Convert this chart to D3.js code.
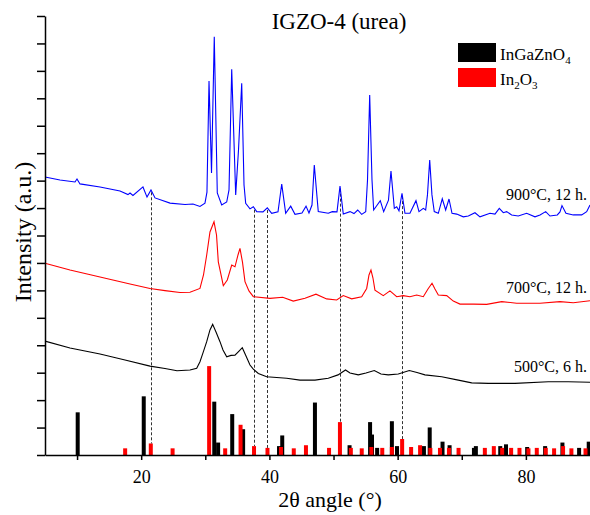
<!DOCTYPE html>
<html>
<head>
<meta charset="utf-8">
<script src="https://cdn.jsdelivr.net/npm/d3@7"></script>
<style>
body { margin: 0; background: #fff; }
</style>
</head>
<body>
<svg id="chart" width="590" height="515"></svg>
<script>
// XRD scans, [2theta, intensity in a.u.] (curves offset as in the figure)
var scan900 = [[5.00,10.13],[7.34,10.02],[9.68,9.95],[9.99,10.06],[10.46,9.88],[13.58,9.77],[16.70,9.62],[17.94,9.49],[18.26,9.55],[18.72,9.46],
  [20.28,9.77],[20.91,9.40],[21.53,9.66],[22.16,9.37],[24.50,9.18],[26.83,9.13],[28.08,9.15],[29.17,9.06],[29.95,9.18],[30.26,9.58],
  [30.58,13.63],[30.97,10.28],[31.40,15.24],[31.87,9.55],[32.56,9.11],[33.34,9.22],[33.70,9.66],[34.12,14.06],[34.74,9.48],[35.18,11.12],
  [35.68,13.55],[36.04,9.84],[36.30,9.17],[36.97,8.97],[37.49,9.05],[38.02,8.87],[39.00,8.86],[39.67,9.01],[40.36,8.81],[41.34,8.86],
  [41.92,9.87],[42.54,8.81],[43.32,9.07],[43.99,8.77],[45.08,8.82],[45.71,9.07],[46.17,8.82],[46.64,9.11],[47.00,10.57],[47.62,8.87],
  [49.18,8.81],[49.81,8.87],[50.54,8.86],[51.01,9.80],[51.52,8.78],[52.57,8.87],[53.19,8.80],[53.77,8.93],[54.39,8.77],[55.02,8.87],
  [55.30,10.02],[55.64,13.12],[56.00,10.02],[56.26,8.93],[57.29,9.27],[57.82,8.87],[58.57,9.29],[58.96,10.35],[59.48,8.99],[59.85,9.05],
  [60.21,8.90],[60.68,9.54],[61.14,8.81],[61.92,8.81],[62.86,9.27],[63.33,8.87],[64.00,8.99],[64.37,8.93],[64.65,9.48],[65.00,10.75],
  [65.35,9.48],[65.71,8.87],[66.34,8.81],[66.96,9.34],[67.49,8.93],[68.01,9.33],[68.48,8.81],[69.21,8.78],[70.24,8.68],[71.02,8.71],
  [72.06,8.83],[72.84,8.68],[74.40,8.81],[75.18,8.78],[75.85,8.99],[76.48,8.83],[77.00,8.87],[77.78,8.75],[78.81,8.71],[80.12,8.81],
  [81.42,8.68],[82.20,8.75],[83.09,8.87],[83.76,8.71],[84.90,8.75],[85.32,8.86],[85.63,9.09],[86.25,8.81],[87.39,8.75],[88.70,8.75],
  [89.48,8.87],[90.00,9.11]];

var scan700 = [[5.00,6.99],[8.90,6.74],[13.58,6.49],[18.26,6.23],[21.38,6.07],[23.71,5.99],[26.05,5.92],[27.61,5.93],[29.17,6.07],[29.72,6.56],
  [30.22,7.29],[30.73,8.13],[31.36,8.50],[31.75,8.02],[32.03,7.04],[32.81,6.17],[33.43,6.38],[34.12,6.92],[34.63,6.86],[35.10,7.29],
  [35.41,7.53],[35.80,7.03],[36.19,6.32],[36.81,5.98],[37.49,5.77],[40.09,5.71],[42.07,5.75],[43.72,5.61],[45.55,5.71],[47.26,5.86],
  [48.93,5.69],[50.49,5.65],[51.52,5.81],[52.83,5.69],[54.39,5.77],[55.17,6.07],[55.53,6.56],[55.84,6.74],[56.15,6.45],[56.46,6.01],
  [57.76,5.81],[58.80,5.98],[59.85,5.77],[60.88,5.81],[61.92,5.77],[62.97,5.83],[64.00,5.77],[64.73,6.05],[65.36,6.26],[65.82,6.05],
  [66.34,5.83],[67.65,5.81],[68.68,5.61],[69.72,5.50],[71.80,5.50],[73.89,5.49],[76.23,5.59],[78.57,5.53],[82.20,5.53],[85.32,5.59],
  [87.39,5.55],[90.00,5.62]];

var scan500 = [[5.00,4.15],[8.90,3.90],[13.58,3.68],[17.48,3.46],[21.38,3.24],[23.71,3.15],[25.59,3.07],[27.61,3.10],[28.66,3.16],[29.17,3.40],
  [29.64,3.72],[30.22,4.13],[30.73,4.56],[31.15,4.76],[31.67,4.48],[32.29,4.13],[32.76,3.83],[33.34,3.58],[34.01,3.63],[34.63,3.64],
  [35.26,3.79],[35.77,3.91],[36.35,3.61],[36.97,3.28],[37.49,3.13],[38.27,2.97],[39.58,2.85],[42.69,2.80],[44.77,2.73],[47.11,2.73],
  [49.18,2.80],[50.70,2.92],[51.87,3.10],[52.57,2.99],[53.86,2.92],[55.06,2.99],[56.36,3.08],[57.40,2.95],[58.54,2.92],[60.10,2.95],
  [61.82,3.08],[63.02,3.01],[64.26,2.92],[66.87,2.85],[69.46,2.73],[71.55,2.63],[74.14,2.61],[78.30,2.61],[83.49,2.67],[86.61,2.67],
  [90.00,2.65]];

// reference patterns, [2theta, relative intensity %]
var refIGZO = [[10.1,48],[20.4,66],[31.4,60],[32.0,14],[34.2,46],[35.9,29],[41.5,10],[42.0,22],[47.1,59],[52.5,11],
  [55.7,37],[56.0,23],[56.8,8],[59.1,38],[59.9,10],[64.1,10],[65.0,31],[67.0,15],[68.1,11],[71.9,8],
  [72.2,10],[76.0,10],[76.9,12],[80.2,9],[83.0,10],[85.7,14],[88.3,8],[89.8,15]];

var refIn2O3 = [[17.5,7.5],[21.5,13],[24.9,7.5],[30.6,100],[33.1,7.5],[35.5,34],[37.6,10],[39.7,8],[41.8,9],[43.8,7.5],
  [45.7,11],[49.3,8],[51.0,37],[52.7,8],[54.4,7.5],[55.9,9],[57.6,8],[59.1,9],[60.7,18],[62.1,9],
  [63.5,11],[65.1,8],[66.6,8],[68.0,8],[69.5,8],[73.6,8],[75.0,10],[76.3,8],[77.7,8],[79.0,8],
  [80.4,7.5],[81.7,8],[83.1,8],[84.4,7.5],[85.8,10],[87.1,7.5],[89.3,7.5]];

var markLines = [21.5, 37.6, 39.7, 51.0, 60.7];
var scanLabels = ["900°C, 12 h.", "700°C, 12 h.", "500°C, 6 h."];
var xTicks = [10, 20, 30, 40, 50, 60, 70, 80];

var serif = '"Liberation Serif", "Times New Roman", Times, serif';
var svg = d3.select("#chart").attr("font-family", serif);
var x = d3.scaleLinear().domain([5, 90]).range([45, 590]);
var y = d3.scaleLinear().domain([0, 16]).range([455, 16]);
var stickK = 3.24 / 100; // 100% stick = 3.24 a.u.

var line = d3.line().x(function(d) { return x(d[0]); }).y(function(d) { return y(d[1]); });

// sticks
function sticks(data, color) {
	svg.append("g").selectAll("rect")
		.data(data)
		.enter()
		.append("rect")
		.attr("x", function(d) { return x(d[0]) - 2; })
		.attr("width", 4)
		.attr("y", function(d) { return y(d[1] * stickK); })
		.attr("height", function(d) { return y(0) - y(d[1] * stickK); })
		.attr("fill", color);
}
sticks(refIGZO, "#000");
sticks(refIn2O3, "#ff0000");

// dashed guide lines from the In2O3 stick up to the 900 scan
var bis = d3.bisector(function(d) { return d[0]; }).left;
function at(scan, t) {
	var i = bis(scan, t);
	var a = scan[i - 1], b = scan[i];
	return a[1] + (b[1] - a[1]) * (t - a[0]) / (b[0] - a[0]);
}
svg.append("g").selectAll("line")
	.data(markLines)
	.enter()
	.append("line")
	.attr("x1", function(d) { return Math.round(x(d)) + 0.5; })
	.attr("x2", function(d) { return Math.round(x(d)) + 0.5; })
	.attr("y1", function(d) { return y(at(scan900, d)) + 2; })
	.attr("y2", function(d) {
		var s = refIn2O3.reduce(function(p, c) { return Math.abs(c[0] - d) < Math.abs(p[0] - d) ? c : p; });
		return y(s[1] * stickK);
	})
	.attr("stroke", "#333")
	.attr("stroke-width", 1)
	.attr("stroke-dasharray", "3,2");

// scans
[[scan900, "#0000ff"], [scan700, "#ff0000"], [scan500, "#000"]].forEach(function(s) {
	svg.append("path")
		.datum(s[0])
		.attr("d", line)
		.attr("fill", "none")
		.attr("stroke", s[1])
		.attr("stroke-width", 1.1);
});

// axes
var xAxis = svg.append("g")
	.attr("transform", "translate(0,455)")
	.call(d3.axisBottom(x).tickValues(xTicks).tickSize(5).tickSizeOuter(0).tickPadding(10)
		.tickFormat(function(d) { return d % 20 === 0 ? d : ""; }));
var yAxis = svg.append("g")
	.attr("transform", "translate(45,0)")
	.call(d3.axisLeft(y).tickValues(d3.range(0, 17)).tickSize(8).tickSizeOuter(0).tickFormat(""));
[xAxis, yAxis].forEach(function(a) {
	a.attr("font-family", serif).attr("font-size", 18);
	a.selectAll("path, line").attr("stroke", "#000").attr("stroke-width", 1.5);
	a.selectAll("text").attr("fill", "#000");
});

// texts
svg.append("text").attr("x", 339).attr("y", 29).attr("text-anchor", "middle")
	.attr("font-size", 23).text("IGZO-4 (urea)");
svg.append("text").attr("x", 330).attr("y", 507).attr("text-anchor", "middle")
	.attr("font-size", 22).text("2θ angle (°)");
svg.append("text").attr("transform", "translate(31,232) rotate(-90)").attr("text-anchor", "middle")
	.attr("font-size", 24).text("Intensity (a.u.)");

var labelY = [200, 293, 372];
svg.append("g").selectAll("text")
	.data(scanLabels)
	.enter()
	.append("text")
	.attr("x", 587)
	.attr("y", function(d, i) { return labelY[i]; })
	.attr("text-anchor", "end")
	.attr("font-size", 16)
	.text(function(d) { return d; });

// legend
var lg = svg.append("g").attr("transform", "translate(458,43)");
lg.append("rect").attr("width", 38).attr("height", 19).attr("fill", "#000");
lg.append("rect").attr("y", 25).attr("width", 38).attr("height", 19).attr("fill", "#ff0000");
var t1 = lg.append("text").attr("x", 42).attr("y", 17).attr("font-size", 17);
t1.append("tspan").text("InGaZnO");
t1.append("tspan").attr("font-size", 11).attr("dy", 4).text("4");
var t2 = lg.append("text").attr("x", 42).attr("y", 42).attr("font-size", 17);
t2.append("tspan").text("In");
t2.append("tspan").attr("font-size", 11).attr("dy", 4).text("2");
t2.append("tspan").attr("dy", -4).text("O");
t2.append("tspan").attr("font-size", 11).attr("dy", 4).text("3");
</script>
</body>
</html>
